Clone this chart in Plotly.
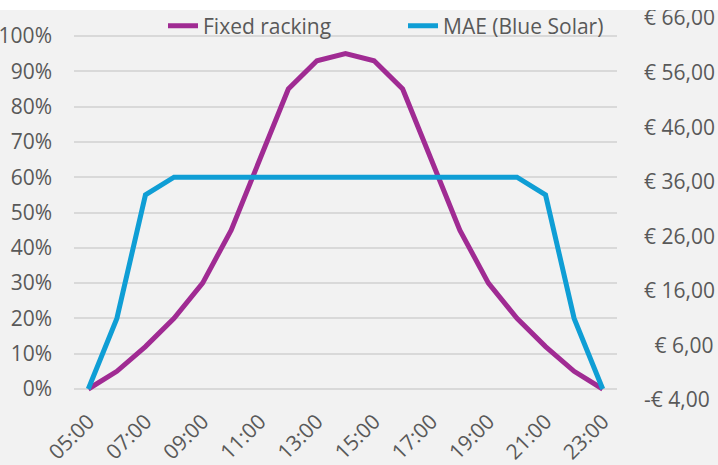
import plotly.graph_objects as go

hours = ["05:00", "06:00", "07:00", "08:00", "09:00", "10:00", "11:00", "12:00", "13:00",
         "14:00", "15:00", "16:00", "17:00", "18:00", "19:00", "20:00", "21:00", "22:00", "23:00"]
fixed_racking = [0.00, 0.05, 0.12, 0.20, 0.30, 0.45, 0.65, 0.85, 0.93, 0.95,
                 0.93, 0.85, 0.65, 0.45, 0.30, 0.20, 0.12, 0.05, 0.00]
mae_blue_solar = [0.00, 0.20, 0.55, 0.60, 0.60, 0.60, 0.60, 0.60, 0.60, 0.60,
                  0.60, 0.60, 0.60, 0.60, 0.60, 0.60, 0.55, 0.20, 0.00]
x_tick_labels = ["05:00", "07:00", "09:00", "11:00", "13:00", "15:00", "17:00", "19:00", "21:00", "23:00"]
left_ticks = [0, 0.1, 0.2, 0.3, 0.4, 0.5, 0.6, 0.7, 0.8, 0.9, 1.0]
left_tick_labels = ["0%", "10%", "20%", "30%", "40%", "50%", "60%", "70%", "80%", "90%", "100%"]
right_ticks = [-4, 6, 16, 26, 36, 46, 56, 66]
right_tick_labels = ["-€ 4,00", "\u2002€ 6,00", "€ 16,00", "€ 26,00", "€ 36,00", "€ 46,00", "€ 56,00", "€ 66,00"]

PURPLE = "#A02B93"
BLUE = "#0F9ED5"
TXT = "#595959"
FONT = "Open Sans"
FS = 21

fig = go.Figure()
fig.add_trace(go.Scatter(x=hours, y=fixed_racking, mode="lines", name="Fixed racking",
                         line=dict(color=PURPLE, width=5)))
fig.add_trace(go.Scatter(x=hours, y=mae_blue_solar, mode="lines", name="MAE (Blue Solar)",
                         line=dict(color=BLUE, width=5)))
# carrier trace so the secondary (euro) axis is drawn
fig.add_trace(go.Scatter(x=hours, y=[None] * len(hours), yaxis="y2", mode="lines",
                         showlegend=False, hoverinfo="skip"))

W, H = 718, 465
L, R, T, B = 74, 101, 18, 65
ph = H - T - B
pw = W - L - R

fig.update_layout(
    width=W, height=H,
    margin=dict(l=L, r=R, t=T, b=B, pad=0, autoexpand=False),
    paper_bgcolor="#F2F2F2", plot_bgcolor="#F2F2F2",
    font=dict(family=FONT, size=FS, color=TXT),
    showlegend=True,
    legend=dict(orientation="h", x=(163 - L) / pw, xanchor="left",
                y=(H - B - 26) / ph, yanchor="middle",
                bgcolor="rgba(0,0,0,0)", entrywidth=195, entrywidthmode="pixels",
                font=dict(family=FONT, size=FS, color=TXT)),
    xaxis=dict(type="category", range=[-0.5, len(hours) - 0.5],
               tickvals=x_tick_labels, ticktext=x_tick_labels, tickangle=-45,
               showgrid=False, zeroline=False, showline=False, ticks="",
               ticklabelstandoff=4,
               tickfont=dict(family=FONT, size=FS, color=TXT)),
    yaxis=dict(range=[-(400 - 389) / 353, 1 + (36 - 18) / 353],
               tickvals=left_ticks, ticktext=left_tick_labels,
               showgrid=True, gridcolor="#D9D9D9", gridwidth=1.5,
               zeroline=False, showline=False, ticks="", ticklabelstandoff=21,
               tickfont=dict(family=FONT, size=FS, color=TXT)),
    yaxis2=dict(overlaying="y", side="right", range=[-4.01, 66.01],
                tickvals=right_ticks, ticktext=right_tick_labels,
                showgrid=False, zeroline=False, showline=False, ticks="",
                ticklabelstandoff=26,
                tickfont=dict(family=FONT, size=FS, color=TXT)),
    shapes=[dict(type="rect", xref="paper", yref="paper",
                 x0=-L / pw - 0.05, x1=1 + R / pw + 0.05,
                 y0=1 + (T - 10) / ph, y1=1 + T / ph + 0.05,
                 fillcolor="white", line=dict(width=0), layer="above")],
)

fig.write_html("out.html", config={"displayModeBar": False},
               post_script="document.body.style.margin='0';document.body.style.padding='0';")
